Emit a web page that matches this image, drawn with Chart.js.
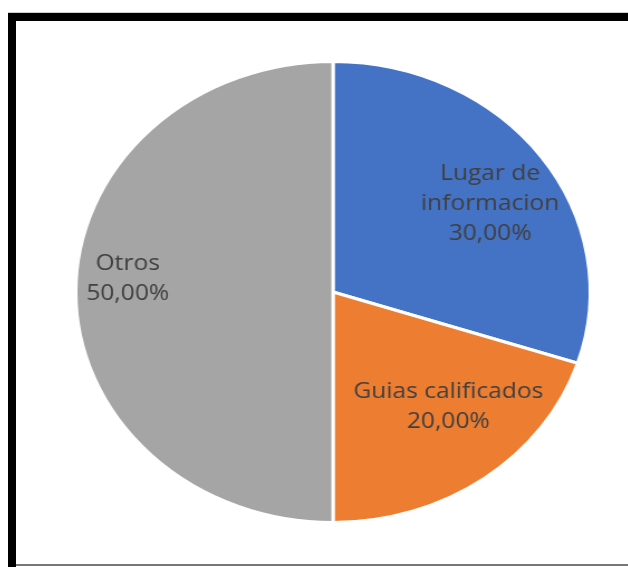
<!DOCTYPE html>
<html>
<head>
<meta charset="utf-8">
<script src="https://cdn.jsdelivr.net/npm/chart.js@4"></script>
<style>
  html, body { margin: 0; padding: 0; background: #ffffff; }
  body { width: 628px; height: 567px; position: relative; overflow: hidden; }
  .frame-top { position: absolute; left: 8px; top: 13px; width: 620px; height: 8px; background: #000; border-top: 1px solid #d0d0d0; margin-top: -1px; }
  .frame-left { position: absolute; left: 8px; top: 13px; width: 8px; height: 554px; background: #000; }
  .frame-bottom { position: absolute; left: 16px; top: 564px; width: 612px; height: 2px; background: #777; }
  #pieChart { position: absolute; left: 82.5px; top: 42px; transform: scaleX(1.116); transform-origin: 50% 50%; }
</style>
</head>
<body>
<div class="frame-top"></div>
<div class="frame-left"></div>
<div class="frame-bottom"></div>
<canvas id="pieChart" width="500" height="500"></canvas>

<script>
// ============================================================
// DATA
// ============================================================

const categories = ["Lugar de informacion", "Guias calificados", "Otros"];
const shares = [30, 20, 50];
const sliceColors = ["#4472C4", "#ED7D31", "#A5A5A5"];

// ============================================================
// LABEL PLUGIN (category + percent inside each slice)
// ============================================================

function formatPercent(value, total) {
  return (value / total * 100).toFixed(2).replace(".", ",") + "%";
}

function wrapText(ctx, text, maxWidth) {
  const words = text.split(" ");
  const lines = [];
  let line = "";

  words.forEach(function(word) {
    const test = line ? line + " " + word : word;
    if (line && ctx.measureText(test).width > maxWidth) {
      lines.push(line);
      line = word;
    } else {
      line = test;
    }
  });

  if (line) {
    lines.push(line);
  }

  return lines;
}

const sliceLabels = {
  id: "sliceLabels",
  afterDatasetsDraw(chart, args, opts) {
    const ctx = chart.ctx;
    const meta = chart.getDatasetMeta(0);
    const data = chart.data.datasets[0].data;
    const total = data.reduce(function(a, b) { return a + b; }, 0);

    ctx.save();
    ctx.font = opts.font;
    ctx.fillStyle = opts.color;
    ctx.textAlign = "center";
    ctx.textBaseline = "middle";

    meta.data.forEach(function(arc, i) {
      const p = arc.getProps(["x", "y", "startAngle", "endAngle", "outerRadius"], true);
      const mid = (p.startAngle + p.endAngle) / 2 + opts.angleShift[i] * Math.PI / 180;
      const r = p.outerRadius * opts.radiusFactor[i];
      const cx = p.x + Math.cos(mid) * r;
      const cy = p.y + Math.sin(mid) * r;

      const lines = wrapText(ctx, chart.data.labels[i], opts.maxWidth);
      lines.push(formatPercent(data[i], total));

      const top = cy - (lines.length - 1) * opts.lineHeight / 2;
      lines.forEach(function(text, k) {
        ctx.fillText(text, cx, top + k * opts.lineHeight);
      });
    });

    ctx.restore();
  }
};

// ============================================================
// CHART
// ============================================================

const ctx = document.getElementById("pieChart").getContext("2d");

const pieChart = new Chart(ctx, {
  type: "pie",
  data: {
    labels: categories,
    datasets: [
      {
        data: shares,
        backgroundColor: sliceColors,
        borderColor: "#ffffff",
        borderWidth: 3
      }
    ]
  },
  options: {
    responsive: false,
    animation: false,
    layout: { padding: 18 },
    plugins: {
      legend: { display: false },
      tooltip: { enabled: false },
      sliceLabels: {
        font: "22px 'Open Sans'",
        color: "#404040",
        lineHeight: 30,
        maxWidth: 180,
        radiusFactor: [0.72, 0.67, 0.80],
        angleShift: [4, -6, 4]
      }
    }
  },
  plugins: [sliceLabels]
});
</script>
</body>
</html>
